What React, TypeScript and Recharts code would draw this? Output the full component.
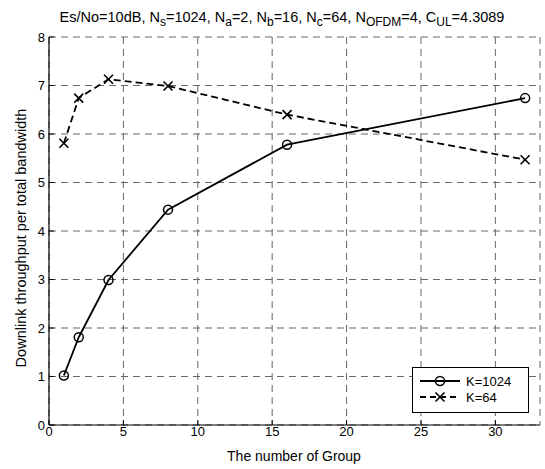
import { LineChart, Line, XAxis, YAxis, CartesianGrid, Legend } from 'recharts';

// number of groups on the x axis
const groups = [1, 2, 4, 8, 16, 32];
// downlink throughput per total bandwidth
const k1024 = [1.02, 1.81, 2.99, 4.44, 5.78, 6.74];
const k64 = [5.81, 6.74, 7.13, 6.99, 6.4, 5.47];

const seriesNames = ['K=1024', 'K=64'];
const xTicks = [0, 5, 10, 15, 20, 25, 30];
const yTicks = [0, 1, 2, 3, 4, 5, 6, 7, 8];

const xLabel = 'The number of Group';
const yLabel = 'Downlink throughput per total bandwidth';
// title pieces, sub = subscript
const titleParts = [
  { t: 'Es/No=10dB, N' }, { t: 's', sub: true },
  { t: '=1024, N' }, { t: 'a', sub: true },
  { t: '=2, N' }, { t: 'b', sub: true },
  { t: '=16, N' }, { t: 'c', sub: true },
  { t: '=64, N' }, { t: 'OFDM', sub: true },
  { t: '=4, C' }, { t: 'UL', sub: true },
  { t: '=4.3089' },
];

const data = groups.map((g, i) => ({ group: g, k1024: k1024[i], k64: k64[i] }));

const FONT = '"Liberation Sans", Arial, sans-serif';

const CircleDot = (props: any) => {
  const { cx, cy, index } = props;
  return <circle key={index} cx={cx} cy={cy} r={4.5} fill="none" stroke="#000" strokeWidth={1.5} />;
};

const CrossDot = (props: any) => {
  const { cx, cy, index } = props;
  const s = 4.5;
  return (
    <g key={index}>
      <line x1={cx - s} y1={cy - s} x2={cx + s} y2={cy + s} stroke="#000" strokeWidth={1.6} />
      <line x1={cx - s} y1={cy + s} x2={cx + s} y2={cy - s} stroke="#000" strokeWidth={1.6} />
    </g>
  );
};

const BottomTick = ({ x, y, payload }: any) => (
  <g>
    <line x1={x} y1={y} x2={x} y2={y - 5} stroke="#000" />
    <text x={x} y={y + 11} textAnchor="middle" fontSize={13} fill="#000" fontFamily={FONT}>
      {payload.value}
    </text>
  </g>
);

const TopTick = ({ x, y }: any) => <line x1={x} y1={y} x2={x} y2={y + 5} stroke="#000" />;

const LeftTick = ({ x, y, payload }: any) => (
  <g>
    <line x1={x} y1={y} x2={x + 5} y2={y} stroke="#000" />
    <text x={x - 4} y={y + 4.5} textAnchor="end" fontSize={13} fill="#000" fontFamily={FONT}>
      {payload.value}
    </text>
  </g>
);

const RightTick = ({ x, y }: any) => <line x1={x} y1={y} x2={x - 5} y2={y} stroke="#000" />;

const LegendBox = () => (
  <svg width={117} height={46} style={{ display: 'block' }}>
    <rect x={0.5} y={0.5} width={116} height={45} fill="#fff" stroke="#000" />
    <line x1={8} y1={14} x2={48} y2={14} stroke="#000" strokeWidth={1.8} />
    <circle cx={28} cy={14} r={4.5} fill="none" stroke="#000" strokeWidth={1.5} />
    <text x={54} y={18.5} fontSize={13} fontFamily={FONT}>{seriesNames[0]}</text>
    <line x1={8} y1={30} x2={48} y2={30} stroke="#000" strokeWidth={1.8} strokeDasharray="6 4" />
    <line x1={23.5} y1={25.5} x2={32.5} y2={34.5} stroke="#000" strokeWidth={1.6} />
    <line x1={23.5} y1={34.5} x2={32.5} y2={25.5} stroke="#000" strokeWidth={1.6} />
    <text x={54} y={34.5} fontSize={13} fontFamily={FONT}>{seriesNames[1]}</text>
  </svg>
);

export default function App() {
  return (
    <div
      style={{
        position: 'absolute',
        left: 0,
        top: 0,
        width: 545,
        height: 469,
        background: '#fff',
        fontFamily: FONT,
      }}
    >
      <LineChart width={545} height={469} data={data} margin={{ top: 37, right: 5, left: 9, bottom: 0 }}>
        <CartesianGrid stroke="#666" strokeDasharray="7 5" />
        <XAxis
          dataKey="group"
          type="number"
          domain={[0, 33]}
          allowDataOverflow
          ticks={xTicks}
          interval={0}
          tick={BottomTick}
          tickLine={false}
          tickSize={0}
          tickMargin={0}
          height={44}
          axisLine={{ stroke: '#000', strokeWidth: 1.2 }}
        />
        <XAxis
          xAxisId="top"
          orientation="top"
          type="number"
          domain={[0, 33]}
          allowDataOverflow
          ticks={xTicks}
          interval={0}
          tick={TopTick}
          tickLine={false}
          tickSize={0}
          tickMargin={0}
          height={0}
          axisLine={{ stroke: '#000', strokeWidth: 1.2 }}
        />
        <YAxis
          type="number"
          domain={[0, 8]}
          ticks={yTicks}
          interval={0}
          tick={LeftTick}
          tickLine={false}
          tickSize={0}
          tickMargin={0}
          width={40}
          axisLine={{ stroke: '#000', strokeWidth: 1.2 }}
        />
        <YAxis
          yAxisId="right"
          orientation="right"
          type="number"
          domain={[0, 8]}
          ticks={yTicks}
          interval={0}
          tick={RightTick}
          tickLine={false}
          tickSize={0}
          tickMargin={0}
          width={0}
          axisLine={{ stroke: '#000', strokeWidth: 1.2 }}
        />
        <Line
          dataKey="k1024"
          name={seriesNames[0]}
          stroke="#000"
          strokeWidth={1.8}
          dot={CircleDot}
          isAnimationActive={false}
        />
        <Line
          dataKey="k64"
          name={seriesNames[1]}
          stroke="#000"
          strokeWidth={1.8}
          strokeDasharray="7 4"
          dot={CrossDot}
          isAnimationActive={false}
        />
        <Legend
          layout="horizontal"
          verticalAlign="middle"
          align="center"
          content={LegendBox}
          wrapperStyle={{ position: 'absolute', left: 412, top: 367, width: 117, height: 46 }}
        />
      </LineChart>
      <svg
        width={545}
        height={469}
        style={{ position: 'absolute', left: 0, top: 0, pointerEvents: 'none' }}
        fontFamily={FONT}
      >
        <text x={282} y={22} textAnchor="middle" fontSize={14.5} fill="#000">
          {titleParts.map((p, i) => {
            const prevSub = i > 0 && titleParts[i - 1].sub;
            const dy = p.sub ? 4 : prevSub ? -4 : 0;
            return (
              <tspan key={i} dy={dy} fontSize={p.sub ? 12 : 14.5}>
                {p.t}
              </tspan>
            );
          })}
        </text>
        <text x={294} y={461} textAnchor="middle" fontSize={14} fill="#000">
          {xLabel}
        </text>
        <text transform="translate(26,238) rotate(-90)" textAnchor="middle" fontSize={14.5} fill="#000">
          {yLabel}
        </text>
      </svg>
    </div>
  );
}
